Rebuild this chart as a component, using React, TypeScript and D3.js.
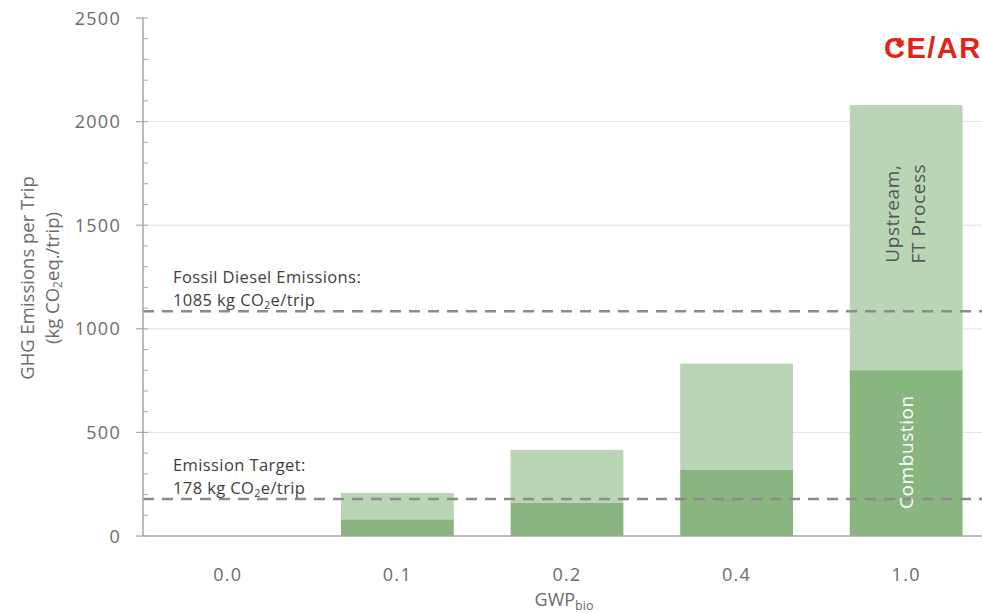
import React from "react";
import * as d3 from "d3";

const categories = ["0.0", "0.1", "0.2", "0.4", "1.0"];
const combustion = [0, 80, 160, 320, 800];
const upstream = [0, 128, 256, 512, 1280];
const yTicks = [0, 500, 1000, 1500, 2000, 2500];
const refLines = [
  { value: 1085, line1: "Fossil Diesel Emissions:", num: "1085" },
  { value: 178, line1: "Emission Target:", num: "178" },
];

const W = 982;
const H = 613;
const left = 143;
const top = 18;
const bottom = 536;
const plotRight = 991;

export default function App() {
  const x = d3.scaleBand<string>().domain(categories).range([left, plotRight]).paddingInner(0.335).paddingOuter(0.1675);
  const y = d3.scaleLinear().domain([0, 2500]).range([bottom, top]);
  const minor = d3.range(0, 2501, 100);
  const font = "'Open Sans', 'DejaVu Sans', sans-serif";
  const textCol = "#6b6b6b";
  const light = "#bad5b5";
  const dark = "#89b581";

  return (
    <svg width={W} height={H} style={{ position: "absolute", left: 0, top: 0, background: "#fff" }} fontFamily={font}>
      {yTicks.filter((t) => t > 0 && t < 2500).map((t) => (
        <line key={"g" + t} x1={left} x2={W} y1={y(t)} y2={y(t)} stroke="#e3e3e3" strokeWidth={1} />
      ))}
      {categories.map((c, i) => {
        const bx = x(c)!;
        const bw = x.bandwidth();
        return (
          <g key={c}>
            {upstream[i] > 0 && (
              <rect x={bx} width={bw} y={y(combustion[i] + upstream[i])} height={y(combustion[i]) - y(combustion[i] + upstream[i])} fill={light} />
            )}
            {combustion[i] > 0 && (
              <rect x={bx} width={bw} y={y(combustion[i])} height={y(0) - y(combustion[i])} fill={dark} />
            )}
          </g>
        );
      })}
      {refLines.map((r) => (
        <line key={"r" + r.value} x1={left} x2={W} y1={y(r.value)} y2={y(r.value)} stroke="#8c8c8c" strokeWidth={2.5} strokeDasharray="11 8" />
      ))}
      {refLines.map((r) => (
        <g key={"a" + r.value} fontSize={16.5} fill="#404040" letterSpacing={0.4}>
          <text x={173} y={y(r.value) - 28}>{r.line1}</text>
          <text x={173} y={y(r.value) - 5}>
            {r.num} kg CO<tspan fontSize={10.5} dy={3}>2</tspan><tspan dy={-3}>e/trip</tspan>
          </text>
        </g>
      ))}
      {(() => {
        const i = categories.length - 1;
        const cx = x(categories[i])! + x.bandwidth() / 2;
        const uy = (y(combustion[i]) + y(combustion[i] + upstream[i])) / 2 - 24;
        const cy = (y(0) + y(combustion[i])) / 2 - 1;
        return (
          <g fontSize={19} letterSpacing={0.6}>
            <text transform={`translate(${cx - 7},${uy}) rotate(-90)`} textAnchor="middle" fill="#555">Upstream,</text>
            <text transform={`translate(${cx + 19},${uy}) rotate(-90)`} textAnchor="middle" fill="#555">FT Process</text>
            <text transform={`translate(${cx + 7},${cy}) rotate(-90)`} textAnchor="middle" fill="#fff">Combustion</text>
          </g>
        );
      })()}
      <line x1={left} x2={left} y1={top} y2={bottom} stroke="#a6a6a6" strokeWidth={1.5} />
      {minor.map((t) => (
        <line key={"m" + t} x1={left} x2={left + 5} y1={y(t)} y2={y(t)} stroke="#a6a6a6" strokeWidth={1} />
      ))}
      {yTicks.map((t) => (
        <g key={"t" + t}>
          <line x1={left - 7} x2={left} y1={y(t)} y2={y(t)} stroke="#a6a6a6" strokeWidth={1.2} />
          <text x={121} y={y(t) + 6.5} textAnchor="end" fontSize={18} letterSpacing={1.3} fill={textCol}>{t}</text>
        </g>
      ))}
      <line x1={left} x2={W} y1={bottom} y2={bottom} stroke="#a6a6a6" strokeWidth={1.5} />
      {categories.map((c) => (
        <text key={"x" + c} x={x(c)! + x.bandwidth() / 2} y={581} textAnchor="middle" fontSize={18} letterSpacing={1.3} fill={textCol}>{c}</text>
      ))}
      <text x={564} y={606} textAnchor="middle" fontSize={18} fill={textCol}>
        GWP<tspan fontSize={12.5} dy={4}>bio</tspan>
      </text>
      <g fontSize={18.5} fill={textCol}>
        <text transform="translate(34,278) rotate(-90)" textAnchor="middle">GHG Emissions per Trip</text>
        <text transform="translate(59,278) rotate(-90)" textAnchor="middle">
          (kg CO<tspan fontSize={12} dy={3}>2</tspan><tspan dy={-3}>eq./trip)</tspan>
        </text>
      </g>
      <g fill="#e2231a">
        <text x={884} y={58} fontSize={29} fontWeight="bold" fontFamily="'Liberation Sans', Arial, sans-serif" letterSpacing={1.5}>
          CE/AR
        </text>
        <path d="M898,41 l2,-4 l2,4 l2,-1 l-1,4 l2,0 l-5,4 l-5,-4 l2,0 l-1,-4 z" />
      </g>
    </svg>
  );
}
